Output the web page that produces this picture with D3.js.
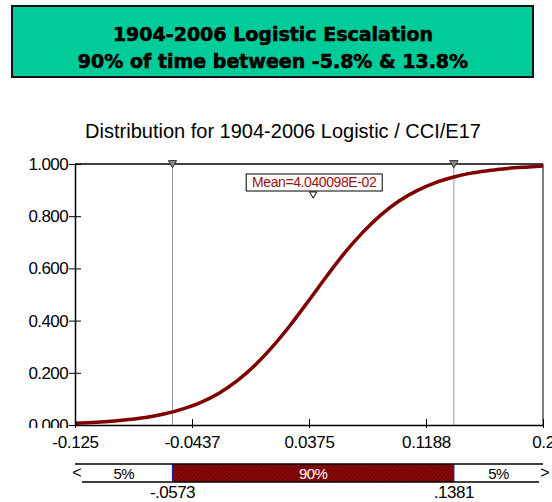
<!DOCTYPE html>
<html>
<head>
<meta charset="utf-8">
<script src="https://cdn.jsdelivr.net/npm/d3@7"></script>
<style>
  body { margin: 0; background: #fff; }
  svg { display: block; }
</style>
</head>
<body>
<div id="chart"></div>
<script>
// values
const titleLines = ["1904-2006 Logistic Escalation", "90% of time between -5.8% & 13.8%"];
const chartTitle = "Distribution for 1904-2006 Logistic / CCI/E17";

const xTicks = [-0.125, -0.04375, 0.0375, 0.11875, 0.2];
const xTickLabels = ["-0.125", "-0.0437", "0.0375", "0.1188", "0.2"];
const yTicks = [0, 0.2, 0.4, 0.6, 0.8, 1.0];

const cdfX = [-0.125, -0.1125, -0.1, -0.0875, -0.075, -0.0625, -0.05, -0.0375, -0.025, -0.0125,
  0, 0.0125, 0.025, 0.0375, 0.05, 0.0625, 0.075, 0.0875, 0.1, 0.1125,
  0.125, 0.1375, 0.15, 0.1625, 0.175, 0.1875, 0.2];
const cdfY = [0.007, 0.010, 0.014, 0.021, 0.030, 0.043, 0.062, 0.087, 0.122, 0.169,
  0.229, 0.302, 0.386, 0.478, 0.572, 0.661, 0.739, 0.805, 0.858, 0.898,
  0.928, 0.949, 0.965, 0.975, 0.983, 0.988, 0.992];

const lowerCut = -0.0573;
const upperCut = 0.1381;
const cutLabels = ["-.0573", ".1381"];
const meanValue = 0.04040098;
const meanLabel = "Mean=4.040098E-02";
const bandLabels = ["5%", "90%", "5%"];

const width = 552, height = 502;
const plot = { left: 75, right: 543, top: 164, bottom: 425 };

const svg = d3.select("#chart")
  .append("svg")
  .attr("width", width)
  .attr("height", height)
  .style("font-family", "'Liberation Sans', Arial, sans-serif");

const defs = svg.append("defs");

// hatch for the 90% band
const hatch = defs.append("pattern")
  .attr("id", "hatch")
  .attr("width", 3)
  .attr("height", 3)
  .attr("patternUnits", "userSpaceOnUse")
  .attr("patternTransform", "rotate(45)");
hatch.append("rect").attr("width", 3).attr("height", 3).attr("fill", "#7a0000");
hatch.append("line")
  .attr("x1", 0).attr("y1", 0).attr("x2", 0).attr("y2", 3)
  .attr("stroke", "#962424")
  .attr("stroke-width", 1);

// the 0.000 label is cut by the x axis in the original
defs.append("clipPath")
  .attr("id", "yclip")
  .append("rect")
  .attr("x", -plot.left)
  .attr("y", 0)
  .attr("width", plot.left + 10)
  .attr("height", 428);

// title box
svg.append("rect")
  .attr("x", 12)
  .attr("y", 6)
  .attr("width", 521)
  .attr("height", 71)
  .attr("fill", "#00cc99")
  .attr("stroke", "#111")
  .attr("stroke-width", 2);

svg.selectAll(".title-line")
  .data(titleLines)
  .enter()
  .append("text")
  .attr("class", "title-line")
  .attr("x", 273)
  .attr("y", (d, i) => 41 + i * 27)
  .attr("text-anchor", "middle")
  .attr("stroke", "#000")
  .attr("stroke-width", 0.6)
  .style("font-family", "'DejaVu Sans', sans-serif")
  .style("font-weight", "bold")
  .style("font-size", "19px")
  .text(d => d);

svg.append("text")
  .attr("x", 283)
  .attr("y", 138)
  .attr("text-anchor", "middle")
  .style("font-size", "20px")
  .text(chartTitle);

const x = d3.scaleLinear().domain([-0.125, 0.2]).range([plot.left, plot.right]);
const y = d3.scaleLinear().domain([0, 1]).range([plot.bottom, plot.top]);

// frame top / right
svg.append("line")
  .attr("x1", plot.left).attr("x2", plot.right)
  .attr("y1", plot.top).attr("y2", plot.top)
  .attr("stroke", "#000").attr("stroke-width", 1.5);
svg.append("line")
  .attr("x1", plot.right).attr("x2", plot.right)
  .attr("y1", plot.top).attr("y2", plot.bottom)
  .attr("stroke", "#000").attr("stroke-width", 1);

// percentile markers
[lowerCut, upperCut].forEach(v => {
  svg.append("line")
    .attr("x1", x(v)).attr("x2", x(v))
    .attr("y1", plot.top).attr("y2", plot.bottom)
    .attr("stroke", "#999")
    .attr("stroke-width", 1);
});

// cdf curve
const line = d3.line()
  .x((d, i) => x(cdfX[i]))
  .y(d => y(d))
  .curve(d3.curveMonotoneX);

svg.append("path")
  .datum(cdfY)
  .attr("d", line)
  .attr("fill", "none")
  .attr("stroke", "#800000")
  .attr("stroke-width", 3.5);

// axes
const yAxis = svg.append("g")
  .attr("transform", `translate(${plot.left},0)`)
  .attr("clip-path", "url(#yclip)")
  .call(d3.axisLeft(y).tickValues(yTicks).tickFormat(d3.format(".3f")).tickSize(6).tickSizeOuter(0));
yAxis.selectAll(".tick line").attr("x1", 6).attr("stroke", "#000");
yAxis.selectAll(".tick text")
  .attr("x", -7)
  .attr("fill", "#000")
  .style("font-family", "'Liberation Sans', Arial, sans-serif")
  .style("font-size", "17px")
  .style("letter-spacing", "-0.6px");
yAxis.select(".domain").attr("stroke-width", 1.5);

const xAxis = svg.append("g")
  .attr("transform", `translate(0,${plot.bottom})`)
  .call(d3.axisBottom(x).tickValues(xTicks).tickFormat((d, i) => xTickLabels[i]).tickSize(3).tickSizeOuter(0));
xAxis.selectAll(".tick line").attr("y1", -6).attr("stroke", "#000");
xAxis.selectAll(".tick text")
  .attr("y", 11)
  .attr("fill", "#000")
  .style("font-family", "'Liberation Sans', Arial, sans-serif")
  .style("font-size", "17px")
  .style("letter-spacing", "-0.3px");
xAxis.select(".domain").attr("stroke-width", 1.5);

// triangles on top of markers
const tri = d3.symbol().type(d3.symbolTriangle).size(30);
[lowerCut, upperCut].forEach(v => {
  svg.append("path")
    .attr("d", tri)
    .attr("transform", `translate(${x(v)},${plot.top - 1}) rotate(180)`)
    .attr("fill", "#888")
    .attr("stroke", "#333")
    .attr("stroke-width", 1);
});

// mean label
const meanX = x(meanValue);
svg.append("rect")
  .attr("x", meanX - 67)
  .attr("y", 174)
  .attr("width", 136)
  .attr("height", 17)
  .attr("fill", "#fff")
  .attr("stroke", "#000")
  .attr("stroke-width", 1);
svg.append("text")
  .attr("x", meanX + 1)
  .attr("y", 187)
  .attr("text-anchor", "middle")
  .attr("fill", "#9a1010")
  .style("font-size", "14px")
  .style("letter-spacing", "-0.4px")
  .text(meanLabel);
svg.append("path")
  .attr("d", d3.symbol().type(d3.symbolTriangle).size(22))
  .attr("transform", `translate(${meanX},${194}) rotate(180)`)
  .attr("fill", "#fff")
  .attr("stroke", "#000")
  .attr("stroke-width", 1);

// percentile band under the chart
const band = { top: 464, bottom: 482 };
svg.append("rect")
  .attr("x", x(lowerCut))
  .attr("y", band.top)
  .attr("width", x(upperCut) - x(lowerCut))
  .attr("height", band.bottom - band.top)
  .attr("fill", "url(#hatch)");
[lowerCut, upperCut].forEach(v => {
  svg.append("line")
    .attr("x1", x(v)).attr("x2", x(v))
    .attr("y1", band.top).attr("y2", band.bottom)
    .attr("stroke", "#1a1aa0")
    .attr("stroke-width", 1.2);
});
svg.append("line")
  .attr("x1", plot.left).attr("x2", plot.right)
  .attr("y1", band.top).attr("y2", band.top)
  .attr("stroke", "#000").attr("stroke-width", 1.5);
svg.append("line")
  .attr("x1", plot.left + 7).attr("x2", plot.right - 4)
  .attr("y1", band.bottom).attr("y2", band.bottom)
  .attr("stroke", "#000").attr("stroke-width", 1.5);

svg.append("text")
  .attr("x", plot.left + 2).attr("y", 478)
  .attr("text-anchor", "middle")
  .style("font-size", "16px")
  .text("<");
svg.append("text")
  .attr("x", plot.right + 2).attr("y", 478)
  .attr("text-anchor", "middle")
  .style("font-size", "16px")
  .text(">");

const bandCenters = [
  (plot.left + x(lowerCut)) / 2,
  (x(lowerCut) + x(upperCut)) / 2,
  (x(upperCut) + plot.right) / 2
];
svg.selectAll(".band-label")
  .data(bandLabels)
  .enter()
  .append("text")
  .attr("class", "band-label")
  .attr("x", (d, i) => bandCenters[i])
  .attr("y", 479)
  .attr("text-anchor", "middle")
  .attr("fill", (d, i) => i === 1 ? "#fff" : "#000")
  .style("font-size", "15px")
  .style("letter-spacing", "-0.6px")
  .text(d => d);

svg.selectAll(".cut-label")
  .data([lowerCut, upperCut])
  .enter()
  .append("text")
  .attr("class", "cut-label")
  .attr("x", d => x(d))
  .attr("y", 498)
  .attr("text-anchor", "middle")
  .style("font-size", "17px")
  .style("letter-spacing", "-0.5px")
  .text((d, i) => cutLabels[i]);
</script>
</body>
</html>
